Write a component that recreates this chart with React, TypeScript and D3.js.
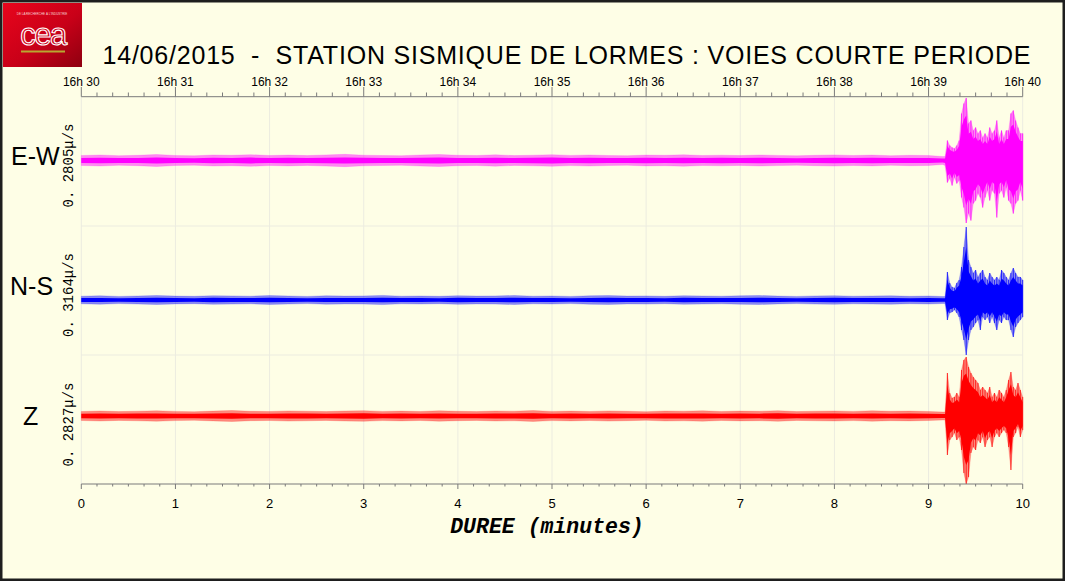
import React from 'react';
import * as d3 from 'd3';

const W = 1065;
const H = 581;

const channels = ['E-W', 'N-S', 'Z'];
const channelColors = ['#ff00ff', '#0000ff', '#ff0000'];
const scaleLabels = ['0. 2805μ/s', '0. 3164μ/s', '0. 2827μ/s'];
const channelOffsets = [10, -95, 35];

const minuteTicks = [0, 1, 2, 3, 4, 5, 6, 7, 8, 9, 10];
const clockLabels = ['16h 30', '16h 31', '16h 32', '16h 33', '16h 34', '16h 35', '16h 36', '16h 37', '16h 38', '16h 39', '16h 40'];

const quietMinutes = [0, 0.2, 0.4, 0.6, 0.8, 1, 1.2, 1.4, 1.6, 1.8, 2, 2.2, 2.4, 2.6, 2.8, 3, 3.2, 3.4, 3.6, 3.8, 4, 4.2, 4.4, 4.6, 4.8, 5, 5.2, 5.4, 5.6, 5.8, 6, 6.2, 6.4, 6.6, 6.8, 7, 7.2, 7.4, 7.6, 7.8, 8, 8.2, 8.4, 8.6, 8.8, 9];
const ewQuiet = [50, 55, 48, 52, 60, 50, 47, 55, 52, 58, 50, 54, 49, 56, 62, 53, 50, 48, 55, 60, 52, 50, 57, 49, 53, 58, 51, 55, 50, 48, 54, 52, 57, 50, 53, 49, 55, 51, 47, 52, 56, 50, 54, 48, 52, 50];
const nsQuiet = [38, 42, 36, 40, 45, 39, 37, 43, 41, 38, 44, 40, 36, 42, 39, 41, 46, 38, 40, 37, 43, 39, 41, 45, 38, 40, 36, 42, 44, 39, 41, 37, 43, 40, 38, 42, 45, 39, 36, 41, 43, 38, 40, 42, 37, 40];
const zQuiet = [45, 50, 44, 48, 52, 46, 43, 49, 55, 47, 45, 51, 48, 44, 50, 53, 46, 49, 45, 52, 47, 44, 50, 48, 54, 46, 49, 45, 51, 47, 43, 50, 48, 52, 45, 49, 47, 53, 44, 48, 50, 46, 52, 47, 49, 45];

const eventMinutes = [9.15, 9.175, 9.2, 9.225, 9.25, 9.275, 9.3, 9.325, 9.35, 9.375, 9.4, 9.425, 9.45, 9.475, 9.5, 9.525, 9.55, 9.575, 9.6, 9.625, 9.65, 9.675, 9.7, 9.725, 9.75, 9.775, 9.8, 9.825, 9.85, 9.875, 9.9, 9.925, 9.95, 9.975, 10];
const ewEventMax = [40, 40, 200, 150, 130, 120, 150, 200, 470, 570, 625, 370, 400, 300, 330, 270, 300, 230, 270, 230, 330, 270, 300, 400, 230, 300, 230, 300, 300, 470, 500, 400, 330, 270, 270];
const ewEventMin = [-40, -50, -220, -180, -250, -170, -230, -200, -370, -470, -625, -530, -600, -430, -400, -330, -370, -470, -370, -300, -400, -300, -330, -570, -330, -300, -370, -270, -400, -430, -530, -430, -400, -300, -400];
const nsEventMax = [35, 35, 280, 170, 130, 120, 170, 200, 330, 530, 730, 400, 330, 270, 300, 230, 270, 300, 230, 200, 270, 230, 200, 230, 200, 300, 270, 230, 200, 270, 320, 270, 230, 230, 200];
const nsEventMin = [-35, -35, -200, -130, -120, -100, -130, -170, -300, -400, -550, -400, -300, -270, -230, -200, -300, -170, -200, -170, -230, -170, -230, -300, -200, -230, -170, -200, -200, -300, -370, -270, -230, -200, -170];
const zEventMax = [40, 40, 430, 230, 180, 190, 230, 190, 460, 560, 590, 490, 430, 390, 360, 330, 260, 290, 260, 230, 290, 190, 230, 190, 260, 230, 190, 260, 360, 440, 290, 260, 330, 260, 190];
const zEventMin = [-40, -40, -390, -240, -210, -170, -240, -210, -340, -570, -680, -610, -370, -310, -340, -240, -270, -210, -310, -240, -210, -310, -210, -170, -210, -170, -140, -170, -310, -540, -210, -170, -110, -210, -140];

const quietSeries = [ewQuiet, nsQuiet, zQuiet];
const eventMaxSeries = [ewEventMax, nsEventMax, zEventMax];
const eventMinSeries = [ewEventMin, nsEventMin, zEventMin];

type Pt = { t: number; hi: number; lo: number; core: number };

export default function App() {
  const x = d3.scaleLinear().domain([0, 10]).range([81.3, 1022.7]);
  const band = d3.scaleBand<string>().domain(channels).range([97, 484]).paddingInner(0).paddingOuter(0);
  const minorTicks = d3.range(0, 61).map((i) => i / 6);
  const bg = '#fefee6';
  const grid = '#ecece0';
  const axisCol = '#7a7a7a';

  const traces = channels.map((ch, ci) => {
    const top = band(ch) as number;
    const y = d3.scaleLinear().domain([-645, 645]).range([top + band.bandwidth(), top]);
    const off = channelOffsets[ci];
    const quietPts: Pt[] = quietMinutes.map((t, i) => ({ t, hi: quietSeries[ci][i], lo: -quietSeries[ci][i], core: 0.5 }));
    const eventPts: Pt[] = eventMinutes.map((t, i) => ({
      t,
      hi: eventMaxSeries[ci][i],
      lo: eventMinSeries[ci][i],
      core: i < 2 ? 0.5 : 0.72,
    }));
    const pts = [...quietPts, ...eventPts];
    const outer = d3
      .area<Pt>()
      .x((d) => x(d.t))
      .y0((d) => y(d.lo + off))
      .y1((d) => y(d.hi + off))
      .curve(d3.curveLinear);
    const inner = d3
      .area<Pt>()
      .x((d) => x(d.t))
      .y0((d) => y(d.lo * d.core + off))
      .y1((d) => y(d.hi * d.core + off))
      .curve(d3.curveLinear);
    return { ch, ci, outer: outer(pts) || '', inner: inner(pts) || '', eventPts, y, off };
  });

  return (
    <svg
      width={W}
      height={H}
      viewBox={`0 0 ${W} ${H}`}
      style={{ position: 'absolute', left: 0, top: 0, display: 'block' }}
    >
      <defs>
        <linearGradient id="ceaGrad" x1="0" y1="0" x2="1" y2="1">
          <stop offset="0%" stopColor="#e8051c" />
          <stop offset="55%" stopColor="#c90018" />
          <stop offset="100%" stopColor="#8e0010" />
        </linearGradient>
      </defs>
      <rect x={0} y={0} width={W} height={H} fill={bg} />

      {/* logo */}
      <rect x={3} y={3} width={79} height={64} fill="url(#ceaGrad)" />
      <text x={42} y={15} fontSize={3} fill="#f7d6d6" textAnchor="middle" fontFamily="Liberation Sans, Arial, sans-serif">
        DE LA RECHERCHE À L'INDUSTRIE
      </text>
      <text
        x={43}
        y={45}
        fontSize={31}
        fill="none"
        stroke="#ffffff"
        strokeWidth={1.1}
        textAnchor="middle"
        fontFamily="Liberation Sans, Arial, sans-serif"
        letterSpacing={-1.5}
      >
        cea
      </text>
      <line x1={21} x2={65} y1={51.5} y2={51.5} stroke="#b8a830" strokeWidth={2} />

      {/* title */}
      <text
        x={102.5}
        y={64}
        fontSize={25}
        fill="#000"
        fontFamily="Liberation Sans, Arial, sans-serif"
        textLength={928}
        lengthAdjust="spacing"
        style={{ whiteSpace: 'pre' }}
      >
        {'14/06/2015  -  STATION SISMIQUE DE LORMES : VOIES COURTE PERIODE'}
      </text>

      {/* grid */}
      {minuteTicks.map((m) => (
        <line key={'vg' + m} x1={x(m)} x2={x(m)} y1={97} y2={484} stroke={grid} strokeWidth={1} />
      ))}
      {channels.slice(1).map((ch) => (
        <line key={'hg' + ch} x1={x(0)} x2={x(10)} y1={band(ch) as number} y2={band(ch) as number} stroke={grid} strokeWidth={1} />
      ))}

      {/* traces */}
      {traces.map((t) => (
        <g key={t.ch}>
          <path d={t.outer} fill={channelColors[t.ci]} fillOpacity={0.45} stroke={channelColors[t.ci]} strokeOpacity={0.3} strokeWidth={0.6} />
          <path d={t.inner} fill={channelColors[t.ci]} fillOpacity={1} />
          {t.eventPts.slice(2).map((d, i) => (
            <line
              key={i}
              x1={x(d.t)}
              x2={x(d.t)}
              y1={t.y(d.lo + t.off)}
              y2={t.y(d.hi + t.off)}
              stroke={channelColors[t.ci]}
              strokeWidth={1}
              strokeOpacity={0.75}
            />
          ))}
        </g>
      ))}

      {/* top axis */}
      <line x1={x(0)} x2={x(10)} y1={96.7} y2={96.7} stroke={axisCol} strokeWidth={1} />
      {minorTicks.map((m, i) => (
        <line key={'tt' + i} x1={x(m)} x2={x(m)} y1={96.7} y2={i % 6 === 0 ? 87 : 92.5} stroke={axisCol} strokeWidth={1} />
      ))}
      {minuteTicks.map((m, i) => (
        <text key={'tl' + m} x={x(m)} y={86} fontSize={12} textAnchor="middle" fill="#000" fontFamily="Liberation Sans, Arial, sans-serif">
          {clockLabels[i]}
        </text>
      ))}

      {/* bottom axis */}
      <line x1={x(0)} x2={x(10)} y1={484} y2={484} stroke={axisCol} strokeWidth={1} />
      {minorTicks.map((m, i) => (
        <line key={'bt' + i} x1={x(m)} x2={x(m)} y1={484} y2={i % 6 === 0 ? 489 : 486.5} stroke={axisCol} strokeWidth={1} />
      ))}
      {minuteTicks.map((m) => (
        <text key={'bl' + m} x={x(m)} y={508} fontSize={13} textAnchor="middle" fill="#000" fontFamily="Liberation Sans, Arial, sans-serif">
          {String(m)}
        </text>
      ))}
      <text
        x={547}
        y={533}
        fontSize={21.5}
        fontWeight="bold"
        fontStyle="italic"
        textAnchor="middle"
        fill="#000"
        fontFamily="Liberation Mono, Courier New, monospace"
        style={{ whiteSpace: 'pre' }}
      >
        {'DUREE (minutes)'}
      </text>

      {/* channel labels */}
      {[165, 295, 425].map((by, i) => (
        <text key={'cl' + i} x={[11, 10, 23][i]} y={by} fontSize={25} fill="#000" fontFamily="Liberation Sans, Arial, sans-serif">
          {channels[i]}
        </text>
      ))}
      {[165.5, 295, 424.5].map((cy, i) => (
        <text
          key={'sl' + i}
          transform={`translate(72.5,${cy}) rotate(-90)`}
          fontSize={14}
          textAnchor="middle"
          fill="#000"
          fontFamily="Liberation Mono, Courier New, monospace"
          style={{ whiteSpace: 'pre' }}
        >
          {scaleLabels[i]}
        </text>
      ))}

      {/* frame */}
      <rect x={1.25} y={1.25} width={W - 2.5} height={H - 2.5} fill="none" stroke="#1e1e1e" strokeWidth={2.5} />
    </svg>
  );
}
